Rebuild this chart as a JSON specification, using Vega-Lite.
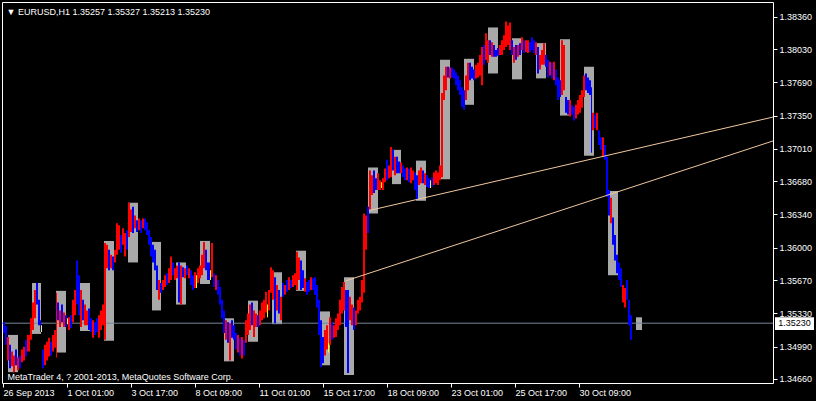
{
"$schema":"https://vega.github.io/schema/vega-lite/v6.json",
"width":771,"height":381,
"autosize":{"type":"none"},
"padding":{"left":2,"top":2,"right":43,"bottom":18},
"background":"#000000",
"config":{"view":{"stroke":"#FFFFFF","strokeWidth":1},"font":"Liberation Sans",
"axis":{"labelOverlap":false,"labelFlush":false,"labelBound":false,"grid":false,"domain":false,"tickColor":"#FFFFFF","tickSize":4,"tickWidth":1,"labelColor":"#FFFFFF","labelFont":"Liberation Sans","labelFontSize":9,"titleColor":"#FFFFFF","titleFont":"Liberation Sans","titleFontSize":9,"titleFontWeight":"normal"}},
"datasets":{
"boxes":[
{"t":6,"t2":16,"hi":1.3511,"lo":1.3473},{"t":30,"t2":39,"hi":1.3564,"lo":1.3512},{"t":54,"t2":64,"hi":1.3556,"lo":1.3493},{"t":78,"t2":88,"hi":1.3564,"lo":1.3515},{"t":102,"t2":112,"hi":1.3607,"lo":1.3505},{"t":126,"t2":136,"hi":1.3646,"lo":1.3585},{"t":150,"t2":159,"hi":1.3606,"lo":1.3536},{"t":174,"t2":184,"hi":1.3585,"lo":1.3542},{"t":198,"t2":208,"hi":1.3607,"lo":1.3563},{"t":222,"t2":232,"hi":1.3528,"lo":1.3484},{"t":246,"t2":256,"hi":1.3546,"lo":1.3504},{"t":270,"t2":280,"hi":1.3575,"lo":1.3522},{"t":294,"t2":304,"hi":1.3597,"lo":1.3556},{"t":318,"t2":328,"hi":1.3535,"lo":1.348},{"t":342,"t2":352,"hi":1.357,"lo":1.347},{"t":366,"t2":376,"hi":1.3682,"lo":1.3635},{"t":390,"t2":399,"hi":1.37,"lo":1.3665},{"t":414,"t2":424,"hi":1.3689,"lo":1.3648},{"t":438,"t2":448,"hi":1.3792,"lo":1.367},{"t":462,"t2":472,"hi":1.3793,"lo":1.3746},{"t":486,"t2":496,"hi":1.3825,"lo":1.3778},{"t":510,"t2":520,"hi":1.3814,"lo":1.3772},{"t":534,"t2":544,"hi":1.3809,"lo":1.3773},{"t":558,"t2":568,"hi":1.3813,"lo":1.3735},{"t":582,"t2":592,"hi":1.3785,"lo":1.3694},{"t":606,"t2":616,"hi":1.3658,"lo":1.3572},{"t":634,"t2":640,"hi":1.3529,"lo":1.3516}
],
"price":[
{"t":1,"t2":3,"hi":1.3524,"lo":1.3513,"c":"dn"},{"t":3,"t2":5,"hi":1.352,"lo":1.3501,"c":"dn"},{"t":5,"t2":7,"hi":1.3509,"lo":1.3485,"c":"up"},{"t":7,"t2":9,"hi":1.3501,"lo":1.3477,"c":"dn"},{"t":9,"t2":11,"hi":1.3494,"lo":1.3479,"c":"up"},{"t":11,"t2":13,"hi":1.349,"lo":1.3473,"c":"up"},{"t":13,"t2":15,"hi":1.3496,"lo":1.348,"c":"dn"},{"t":15,"t2":17,"hi":1.3488,"lo":1.3475,"c":"up"},{"t":17,"t2":19,"hi":1.349,"lo":1.3477,"c":"dn"},{"t":19,"t2":21,"hi":1.3496,"lo":1.3483,"c":"up"},
{"t":21,"t2":23,"hi":1.3499,"lo":1.3485,"c":"up"},{"t":23,"t2":25,"hi":1.3506,"lo":1.3489,"c":"dn"},{"t":25,"t2":28,"hi":1.3511,"lo":1.3494,"c":"up"},{"t":28,"t2":30,"hi":1.3528,"lo":1.3506,"c":"up"},{"t":30,"t2":32,"hi":1.3544,"lo":1.3516,"c":"up"},{"t":32,"t2":34,"hi":1.3557,"lo":1.3528,"c":"up"},{"t":34,"t2":36,"hi":1.3564,"lo":1.3542,"c":"dn"},{"t":36,"t2":38,"hi":1.3547,"lo":1.3521,"c":"dn"},{"t":38,"t2":39,"hi":1.3526,"lo":1.3514,"c":"dn"},{"t":39,"t2":40,"hi":1.3521,"lo":1.3514,"c":"eq"},
{"t":40,"t2":42,"hi":1.3496,"lo":1.3477,"c":"dn"},{"t":42,"t2":44,"hi":1.3501,"lo":1.348,"c":"up"},{"t":44,"t2":46,"hi":1.3504,"lo":1.3485,"c":"up"},{"t":46,"t2":48,"hi":1.3508,"lo":1.3489,"c":"up"},{"t":48,"t2":50,"hi":1.3504,"lo":1.349,"c":"dn"},{"t":50,"t2":52,"hi":1.3511,"lo":1.3494,"c":"up"},{"t":52,"t2":54,"hi":1.3516,"lo":1.3498,"c":"up"},{"t":54,"t2":55,"hi":1.3554,"lo":1.3488,"c":"up"},{"t":55,"t2":57,"hi":1.3544,"lo":1.3526,"c":"dn"},{"t":57,"t2":59,"hi":1.3536,"lo":1.3519,"c":"up"},
{"t":59,"t2":61,"hi":1.3542,"lo":1.3524,"c":"dn"},{"t":61,"t2":63,"hi":1.3534,"lo":1.3519,"c":"up"},{"t":63,"t2":65,"hi":1.3531,"lo":1.3519,"c":"dn"},{"t":65,"t2":66,"hi":1.3528,"lo":1.3522,"c":"eq"},{"t":66,"t2":68,"hi":1.3529,"lo":1.3516,"c":"up"},{"t":68,"t2":70,"hi":1.3531,"lo":1.3518,"c":"dn"},{"t":70,"t2":72,"hi":1.3547,"lo":1.3524,"c":"up"},{"t":72,"t2":74,"hi":1.3557,"lo":1.3531,"c":"up"},{"t":74,"t2":76,"hi":1.3587,"lo":1.3542,"c":"dn"},{"t":76,"t2":78,"hi":1.3572,"lo":1.3531,"c":"dn"},
{"t":78,"t2":80,"hi":1.3557,"lo":1.3519,"c":"up"},{"t":80,"t2":82,"hi":1.3547,"lo":1.3526,"c":"dn"},{"t":82,"t2":84,"hi":1.3542,"lo":1.3521,"c":"up"},{"t":84,"t2":86,"hi":1.3536,"lo":1.3521,"c":"up"},{"t":86,"t2":88,"hi":1.3538,"lo":1.3516,"c":"dn"},{"t":88,"t2":90,"hi":1.3528,"lo":1.3514,"c":"dn"},{"t":90,"t2":92,"hi":1.3526,"lo":1.3508,"c":"up"},{"t":92,"t2":94,"hi":1.3524,"lo":1.3511,"c":"dn"},{"t":94,"t2":96,"hi":1.3528,"lo":1.3514,"c":"dn"},{"t":96,"t2":98,"hi":1.3531,"lo":1.3508,"c":"up"},
{"t":98,"t2":100,"hi":1.3536,"lo":1.3516,"c":"up"},{"t":100,"t2":102,"hi":1.3542,"lo":1.3521,"c":"up"},{"t":102,"t2":104,"hi":1.3605,"lo":1.3506,"c":"up"},{"t":104,"t2":106,"hi":1.3603,"lo":1.3579,"c":"up"},{"t":106,"t2":108,"hi":1.3598,"lo":1.3577,"c":"dn"},{"t":108,"t2":110,"hi":1.3593,"lo":1.3579,"c":"up"},{"t":110,"t2":112,"hi":1.3591,"lo":1.3577,"c":"dn"},{"t":112,"t2":114,"hi":1.3598,"lo":1.3585,"c":"up"},{"t":114,"t2":116,"hi":1.3625,"lo":1.3593,"c":"up"},{"t":116,"t2":118,"hi":1.3623,"lo":1.3598,"c":"up"},
{"t":118,"t2":120,"hi":1.3613,"lo":1.3595,"c":"dn"},{"t":120,"t2":122,"hi":1.362,"lo":1.3603,"c":"up"},{"t":122,"t2":124,"hi":1.3615,"lo":1.3591,"c":"up"},{"t":124,"t2":126,"hi":1.3618,"lo":1.3598,"c":"dn"},{"t":126,"t2":128,"hi":1.3646,"lo":1.3611,"c":"up"},{"t":128,"t2":130,"hi":1.3639,"lo":1.3616,"c":"up"},{"t":130,"t2":132,"hi":1.3642,"lo":1.3615,"c":"dn"},{"t":132,"t2":134,"hi":1.3633,"lo":1.362,"c":"up"},{"t":134,"t2":136,"hi":1.3628,"lo":1.3616,"c":"dn"},{"t":136,"t2":138,"hi":1.363,"lo":1.3618,"c":"up"},
{"t":138,"t2":140,"hi":1.3628,"lo":1.3615,"c":"dn"},{"t":140,"t2":142,"hi":1.363,"lo":1.362,"c":"up"},{"t":142,"t2":144,"hi":1.363,"lo":1.3618,"c":"dn"},{"t":144,"t2":146,"hi":1.3626,"lo":1.3613,"c":"dn"},{"t":146,"t2":148,"hi":1.3618,"lo":1.3603,"c":"dn"},{"t":148,"t2":150,"hi":1.3611,"lo":1.3591,"c":"dn"},{"t":150,"t2":152,"hi":1.3603,"lo":1.3585,"c":"dn"},{"t":152,"t2":154,"hi":1.3598,"lo":1.3577,"c":"dn"},{"t":154,"t2":156,"hi":1.3582,"lo":1.3557,"c":"dn"},{"t":156,"t2":158,"hi":1.3567,"lo":1.3547,"c":"up"},
{"t":158,"t2":160,"hi":1.3564,"lo":1.3554,"c":"dn"},{"t":160,"t2":162,"hi":1.3567,"lo":1.3557,"c":"up"},{"t":162,"t2":164,"hi":1.3572,"lo":1.356,"c":"up"},{"t":164,"t2":166,"hi":1.3574,"lo":1.3562,"c":"dn"},{"t":166,"t2":168,"hi":1.3579,"lo":1.3564,"c":"up"},{"t":168,"t2":170,"hi":1.3591,"lo":1.3567,"c":"up"},{"t":170,"t2":172,"hi":1.3585,"lo":1.3572,"c":"dn"},{"t":172,"t2":174,"hi":1.3579,"lo":1.3567,"c":"up"},{"t":174,"t2":176,"hi":1.3582,"lo":1.3569,"c":"up"},{"t":176,"t2":178,"hi":1.3585,"lo":1.3544,"c":"dn"},
{"t":178,"t2":180,"hi":1.3582,"lo":1.3542,"c":"up"},{"t":180,"t2":182,"hi":1.358,"lo":1.357,"c":"dn"},{"t":182,"t2":184,"hi":1.3579,"lo":1.3569,"c":"up"},{"t":184,"t2":186,"hi":1.3582,"lo":1.3572,"c":"dn"},{"t":186,"t2":188,"hi":1.3579,"lo":1.3569,"c":"up"},{"t":188,"t2":190,"hi":1.3577,"lo":1.3562,"c":"dn"},{"t":190,"t2":192,"hi":1.3572,"lo":1.3557,"c":"dn"},{"t":192,"t2":194,"hi":1.3575,"lo":1.3559,"c":"up"},{"t":194,"t2":195,"hi":1.3572,"lo":1.3559,"c":"eq"},{"t":195,"t2":197,"hi":1.3579,"lo":1.3564,"c":"up"},
{"t":197,"t2":199,"hi":1.3582,"lo":1.3569,"c":"up"},{"t":199,"t2":201,"hi":1.3593,"lo":1.3572,"c":"up"},{"t":201,"t2":203,"hi":1.3606,"lo":1.3579,"c":"up"},{"t":203,"t2":205,"hi":1.3598,"lo":1.3577,"c":"dn"},{"t":205,"t2":207,"hi":1.3585,"lo":1.3567,"c":"dn"},{"t":207,"t2":208,"hi":1.3585,"lo":1.3567,"c":"dn"},{"t":208,"t2":209,"hi":1.3577,"lo":1.3567,"c":"eq"},{"t":209,"t2":211,"hi":1.3605,"lo":1.357,"c":"up"},{"t":211,"t2":213,"hi":1.3574,"lo":1.356,"c":"dn"},{"t":213,"t2":215,"hi":1.3572,"lo":1.3557,"c":"up"},
{"t":215,"t2":217,"hi":1.3567,"lo":1.3552,"c":"dn"},{"t":217,"t2":219,"hi":1.356,"lo":1.3542,"c":"dn"},{"t":219,"t2":221,"hi":1.3547,"lo":1.3528,"c":"dn"},{"t":221,"t2":223,"hi":1.3536,"lo":1.3513,"c":"dn"},{"t":223,"t2":225,"hi":1.3526,"lo":1.3506,"c":"up"},{"t":225,"t2":227,"hi":1.3524,"lo":1.3503,"c":"dn"},{"t":227,"t2":229,"hi":1.3523,"lo":1.3485,"c":"up"},{"t":229,"t2":231,"hi":1.3526,"lo":1.3508,"c":"dn"},{"t":231,"t2":233,"hi":1.3521,"lo":1.3506,"c":"dn"},{"t":233,"t2":235,"hi":1.3513,"lo":1.3496,"c":"dn"},
{"t":235,"t2":237,"hi":1.3511,"lo":1.3493,"c":"up"},{"t":237,"t2":239,"hi":1.3508,"lo":1.349,"c":"dn"},{"t":239,"t2":241,"hi":1.3509,"lo":1.3487,"c":"up"},{"t":241,"t2":243,"hi":1.3506,"lo":1.349,"c":"dn"},{"t":243,"t2":245,"hi":1.3526,"lo":1.3503,"c":"up"},{"t":245,"t2":247,"hi":1.3533,"lo":1.3511,"c":"up"},{"t":247,"t2":249,"hi":1.3542,"lo":1.3516,"c":"up"},{"t":249,"t2":251,"hi":1.3544,"lo":1.3521,"c":"dn"},{"t":251,"t2":253,"hi":1.3536,"lo":1.3509,"c":"up"},{"t":253,"t2":255,"hi":1.3533,"lo":1.3519,"c":"up"},
{"t":255,"t2":257,"hi":1.3531,"lo":1.3519,"c":"dn"},{"t":257,"t2":259,"hi":1.3536,"lo":1.3521,"c":"up"},{"t":259,"t2":261,"hi":1.3544,"lo":1.3526,"c":"up"},{"t":261,"t2":263,"hi":1.3547,"lo":1.3528,"c":"up"},{"t":263,"t2":265,"hi":1.3555,"lo":1.3534,"c":"up"},{"t":265,"t2":266,"hi":1.3542,"lo":1.3529,"c":"eq"},{"t":266,"t2":268,"hi":1.3557,"lo":1.3536,"c":"up"},{"t":268,"t2":270,"hi":1.358,"lo":1.3554,"c":"up"},{"t":270,"t2":272,"hi":1.3577,"lo":1.3547,"c":"up"},{"t":272,"t2":274,"hi":1.357,"lo":1.3523,"c":"dn"},
{"t":274,"t2":276,"hi":1.3562,"lo":1.3536,"c":"up"},{"t":276,"t2":278,"hi":1.3557,"lo":1.3533,"c":"dn"},{"t":278,"t2":280,"hi":1.355,"lo":1.3526,"c":"up"},{"t":280,"t2":282,"hi":1.3564,"lo":1.355,"c":"dn"},{"t":282,"t2":284,"hi":1.3562,"lo":1.3552,"c":"up"},{"t":284,"t2":286,"hi":1.3567,"lo":1.3555,"c":"dn"},{"t":286,"t2":288,"hi":1.357,"lo":1.3557,"c":"up"},{"t":288,"t2":290,"hi":1.3567,"lo":1.3559,"c":"dn"},{"t":290,"t2":292,"hi":1.3572,"lo":1.356,"c":"up"},{"t":292,"t2":294,"hi":1.3574,"lo":1.3562,"c":"up"},
{"t":294,"t2":296,"hi":1.3596,"lo":1.3557,"c":"up"},{"t":296,"t2":298,"hi":1.359,"lo":1.3567,"c":"up"},{"t":298,"t2":300,"hi":1.3587,"lo":1.3557,"c":"dn"},{"t":300,"t2":302,"hi":1.3577,"lo":1.3559,"c":"dn"},{"t":302,"t2":304,"hi":1.3569,"lo":1.3555,"c":"up"},{"t":304,"t2":306,"hi":1.3565,"lo":1.3552,"c":"dn"},{"t":306,"t2":308,"hi":1.3567,"lo":1.3555,"c":"dn"},{"t":308,"t2":310,"hi":1.357,"lo":1.3557,"c":"up"},{"t":310,"t2":312,"hi":1.3569,"lo":1.3557,"c":"dn"},{"t":312,"t2":314,"hi":1.357,"lo":1.3552,"c":"dn"},
{"t":314,"t2":316,"hi":1.3562,"lo":1.3539,"c":"dn"},{"t":316,"t2":318,"hi":1.3547,"lo":1.3511,"c":"dn"},{"t":318,"t2":320,"hi":1.3526,"lo":1.3478,"c":"dn"},{"t":320,"t2":322,"hi":1.3509,"lo":1.3482,"c":"dn"},{"t":322,"t2":324,"hi":1.3516,"lo":1.349,"c":"up"},{"t":324,"t2":326,"hi":1.3521,"lo":1.3496,"c":"up"},{"t":326,"t2":327,"hi":1.3503,"lo":1.3493,"c":"eq"},{"t":327,"t2":329,"hi":1.3529,"lo":1.3501,"c":"up"},{"t":329,"t2":331,"hi":1.3524,"lo":1.3506,"c":"dn"},{"t":331,"t2":333,"hi":1.3521,"lo":1.3508,"c":"up"},
{"t":333,"t2":335,"hi":1.3528,"lo":1.3509,"c":"up"},{"t":335,"t2":337,"hi":1.3533,"lo":1.3516,"c":"up"},{"t":337,"t2":339,"hi":1.3547,"lo":1.3521,"c":"up"},{"t":339,"t2":341,"hi":1.356,"lo":1.3533,"c":"up"},{"t":341,"t2":343,"hi":1.3565,"lo":1.3536,"c":"up"},{"t":343,"t2":345,"hi":1.3557,"lo":1.3519,"c":"dn"},{"t":345,"t2":347,"hi":1.3557,"lo":1.3472,"c":"dn"},{"t":347,"t2":349,"hi":1.355,"lo":1.3526,"c":"up"},{"t":349,"t2":351,"hi":1.3542,"lo":1.3521,"c":"up"},{"t":351,"t2":353,"hi":1.3539,"lo":1.3516,"c":"dn"},
{"t":353,"t2":355,"hi":1.3536,"lo":1.3521,"c":"up"},{"t":355,"t2":357,"hi":1.3547,"lo":1.3533,"c":"up"},{"t":357,"t2":359,"hi":1.355,"lo":1.3536,"c":"up"},{"t":359,"t2":361,"hi":1.3567,"lo":1.3544,"c":"up"},{"t":361,"t2":363,"hi":1.3635,"lo":1.3554,"c":"up"},{"t":363,"t2":365,"hi":1.3633,"lo":1.3598,"c":"up"},{"t":365,"t2":367,"hi":1.3642,"lo":1.3615,"c":"dn"},{"t":367,"t2":369,"hi":1.3679,"lo":1.3639,"c":"up"},{"t":369,"t2":371,"hi":1.3674,"lo":1.3654,"c":"up"},{"t":371,"t2":373,"hi":1.3679,"lo":1.3656,"c":"dn"},
{"t":373,"t2":375,"hi":1.3671,"lo":1.3659,"c":"dn"},{"t":375,"t2":377,"hi":1.3676,"lo":1.3659,"c":"up"},{"t":377,"t2":379,"hi":1.3669,"lo":1.3659,"c":"up"},{"t":379,"t2":380,"hi":1.3667,"lo":1.3661,"c":"eq"},{"t":380,"t2":382,"hi":1.3671,"lo":1.3659,"c":"up"},{"t":382,"t2":384,"hi":1.3681,"lo":1.3667,"c":"up"},{"t":384,"t2":386,"hi":1.369,"lo":1.3669,"c":"dn"},{"t":386,"t2":388,"hi":1.3684,"lo":1.3671,"c":"up"},{"t":388,"t2":390,"hi":1.3703,"lo":1.3672,"c":"up"},{"t":390,"t2":392,"hi":1.37,"lo":1.3679,"c":"dn"},
{"t":392,"t2":394,"hi":1.3693,"lo":1.3674,"c":"up"},{"t":394,"t2":396,"hi":1.3693,"lo":1.3676,"c":"dn"},{"t":396,"t2":398,"hi":1.3688,"lo":1.3676,"c":"dn"},{"t":398,"t2":400,"hi":1.3687,"lo":1.3676,"c":"up"},{"t":400,"t2":402,"hi":1.3684,"lo":1.3672,"c":"dn"},{"t":402,"t2":404,"hi":1.3681,"lo":1.3669,"c":"dn"},{"t":404,"t2":406,"hi":1.3682,"lo":1.3669,"c":"up"},{"t":406,"t2":408,"hi":1.3681,"lo":1.3667,"c":"dn"},{"t":408,"t2":410,"hi":1.3682,"lo":1.3666,"c":"up"},{"t":410,"t2":412,"hi":1.3679,"lo":1.3669,"c":"up"},
{"t":412,"t2":414,"hi":1.3677,"lo":1.3659,"c":"dn"},{"t":414,"t2":416,"hi":1.3674,"lo":1.3649,"c":"dn"},{"t":416,"t2":418,"hi":1.3679,"lo":1.3664,"c":"up"},{"t":418,"t2":420,"hi":1.3682,"lo":1.3666,"c":"up"},{"t":420,"t2":422,"hi":1.3679,"lo":1.3666,"c":"dn"},{"t":422,"t2":424,"hi":1.3676,"lo":1.3664,"c":"up"},{"t":424,"t2":426,"hi":1.3674,"lo":1.3662,"c":"dn"},{"t":426,"t2":428,"hi":1.3671,"lo":1.3661,"c":"dn"},{"t":428,"t2":429,"hi":1.3669,"lo":1.3661,"c":"eq"},{"t":429,"t2":431,"hi":1.3672,"lo":1.3662,"c":"dn"},
{"t":431,"t2":433,"hi":1.3677,"lo":1.3664,"c":"up"},{"t":433,"t2":435,"hi":1.3679,"lo":1.3666,"c":"up"},{"t":435,"t2":437,"hi":1.3677,"lo":1.3664,"c":"up"},{"t":437,"t2":439,"hi":1.3684,"lo":1.3669,"c":"up"},{"t":439,"t2":441,"hi":1.3758,"lo":1.3672,"c":"up"},{"t":441,"t2":443,"hi":1.3776,"lo":1.3751,"c":"up"},{"t":443,"t2":445,"hi":1.3785,"lo":1.3761,"c":"up"},{"t":445,"t2":447,"hi":1.3785,"lo":1.3774,"c":"dn"},{"t":447,"t2":449,"hi":1.3784,"lo":1.3773,"c":"up"},{"t":449,"t2":451,"hi":1.3784,"lo":1.3774,"c":"dn"},
{"t":451,"t2":453,"hi":1.3782,"lo":1.3773,"c":"dn"},{"t":453,"t2":455,"hi":1.3779,"lo":1.3766,"c":"dn"},{"t":455,"t2":457,"hi":1.3776,"lo":1.3761,"c":"dn"},{"t":457,"t2":459,"hi":1.3771,"lo":1.3756,"c":"dn"},{"t":459,"t2":461,"hi":1.3764,"lo":1.3744,"c":"dn"},{"t":461,"t2":463,"hi":1.3761,"lo":1.3741,"c":"dn"},{"t":463,"t2":465,"hi":1.3776,"lo":1.3751,"c":"up"},{"t":465,"t2":467,"hi":1.3789,"lo":1.3761,"c":"up"},{"t":467,"t2":469,"hi":1.3789,"lo":1.3771,"c":"dn"},{"t":469,"t2":471,"hi":1.3785,"lo":1.3773,"c":"dn"},
{"t":471,"t2":473,"hi":1.3782,"lo":1.3771,"c":"dn"},{"t":473,"t2":475,"hi":1.3787,"lo":1.3773,"c":"up"},{"t":475,"t2":477,"hi":1.3789,"lo":1.3774,"c":"up"},{"t":477,"t2":479,"hi":1.3797,"lo":1.3776,"c":"up"},{"t":479,"t2":481,"hi":1.3805,"lo":1.3766,"c":"up"},{"t":481,"t2":483,"hi":1.3807,"lo":1.3787,"c":"dn"},{"t":483,"t2":485,"hi":1.3819,"lo":1.3792,"c":"up"},{"t":485,"t2":487,"hi":1.3812,"lo":1.3789,"c":"up"},{"t":487,"t2":489,"hi":1.3812,"lo":1.3797,"c":"dn"},{"t":489,"t2":491,"hi":1.381,"lo":1.3795,"c":"up"},
{"t":491,"t2":493,"hi":1.3807,"lo":1.3795,"c":"dn"},{"t":493,"t2":495,"hi":1.3802,"lo":1.3795,"c":"dn"},{"t":495,"t2":497,"hi":1.3804,"lo":1.3796,"c":"dn"},{"t":497,"t2":499,"hi":1.3807,"lo":1.3797,"c":"up"},{"t":499,"t2":501,"hi":1.3812,"lo":1.3797,"c":"up"},{"t":501,"t2":503,"hi":1.3817,"lo":1.3802,"c":"up"},{"t":503,"t2":505,"hi":1.3831,"lo":1.3805,"c":"up"},{"t":505,"t2":507,"hi":1.3827,"lo":1.3807,"c":"up"},{"t":507,"t2":509,"hi":1.383,"lo":1.3802,"c":"up"},{"t":509,"t2":511,"hi":1.3812,"lo":1.3797,"c":"dn"},
{"t":511,"t2":513,"hi":1.3805,"lo":1.3789,"c":"up"},{"t":513,"t2":515,"hi":1.3807,"lo":1.3792,"c":"dn"},{"t":515,"t2":517,"hi":1.3807,"lo":1.3795,"c":"up"},{"t":517,"t2":519,"hi":1.3809,"lo":1.3797,"c":"dn"},{"t":519,"t2":521,"hi":1.3815,"lo":1.3802,"c":"up"},{"t":521,"t2":523,"hi":1.3812,"lo":1.3799,"c":"dn"},{"t":523,"t2":525,"hi":1.3812,"lo":1.38,"c":"up"},{"t":525,"t2":527,"hi":1.3812,"lo":1.3799,"c":"up"},{"t":527,"t2":529,"hi":1.381,"lo":1.38,"c":"dn"},{"t":529,"t2":531,"hi":1.3815,"lo":1.3802,"c":"dn"},
{"t":531,"t2":533,"hi":1.3812,"lo":1.3799,"c":"dn"},{"t":533,"t2":535,"hi":1.381,"lo":1.3797,"c":"up"},{"t":535,"t2":537,"hi":1.3805,"lo":1.3778,"c":"dn"},{"t":537,"t2":539,"hi":1.3797,"lo":1.3782,"c":"up"},{"t":539,"t2":541,"hi":1.3802,"lo":1.3787,"c":"up"},{"t":541,"t2":543,"hi":1.3809,"lo":1.3787,"c":"up"},{"t":543,"t2":545,"hi":1.3797,"lo":1.3785,"c":"dn"},{"t":545,"t2":547,"hi":1.3792,"lo":1.3774,"c":"dn"},{"t":547,"t2":549,"hi":1.379,"lo":1.3776,"c":"up"},{"t":549,"t2":551,"hi":1.3789,"lo":1.3773,"c":"dn"},
{"t":551,"t2":553,"hi":1.379,"lo":1.3771,"c":"up"},{"t":553,"t2":555,"hi":1.3782,"lo":1.3766,"c":"dn"},{"t":555,"t2":557,"hi":1.3774,"lo":1.3751,"c":"dn"},{"t":557,"t2":559,"hi":1.3771,"lo":1.3754,"c":"dn"},{"t":559,"t2":561,"hi":1.3812,"lo":1.3756,"c":"up"},{"t":561,"t2":563,"hi":1.3807,"lo":1.3761,"c":"up"},{"t":563,"t2":565,"hi":1.3754,"lo":1.3738,"c":"dn"},{"t":565,"t2":567,"hi":1.3751,"lo":1.3736,"c":"dn"},{"t":567,"t2":569,"hi":1.3751,"lo":1.3734,"c":"up"},{"t":569,"t2":571,"hi":1.3746,"lo":1.3736,"c":"dn"},
{"t":571,"t2":573,"hi":1.3744,"lo":1.373,"c":"dn"},{"t":573,"t2":575,"hi":1.3746,"lo":1.3732,"c":"up"},{"t":575,"t2":577,"hi":1.3751,"lo":1.3736,"c":"up"},{"t":577,"t2":579,"hi":1.3756,"lo":1.3738,"c":"up"},{"t":579,"t2":581,"hi":1.3761,"lo":1.3743,"c":"up"},{"t":581,"t2":583,"hi":1.3776,"lo":1.3754,"c":"up"},{"t":583,"t2":585,"hi":1.3778,"lo":1.3761,"c":"dn"},{"t":585,"t2":587,"hi":1.3774,"lo":1.3758,"c":"dn"},{"t":587,"t2":589,"hi":1.3771,"lo":1.3756,"c":"dn"},{"t":589,"t2":590,"hi":1.3764,"lo":1.3697,"c":"dn"},
{"t":590,"t2":592,"hi":1.3738,"lo":1.372,"c":"up"},{"t":592,"t2":594,"hi":1.3736,"lo":1.3722,"c":"dn"},{"t":594,"t2":596,"hi":1.3738,"lo":1.372,"c":"up"},{"t":596,"t2":598,"hi":1.372,"lo":1.3705,"c":"dn"},{"t":598,"t2":600,"hi":1.3713,"lo":1.37,"c":"dn"},{"t":600,"t2":602,"hi":1.3713,"lo":1.3693,"c":"up"},{"t":602,"t2":604,"hi":1.3705,"lo":1.369,"c":"dn"},{"t":604,"t2":606,"hi":1.3693,"lo":1.3652,"c":"dn"},{"t":606,"t2":608,"hi":1.3659,"lo":1.3633,"c":"dn"},{"t":608,"t2":610,"hi":1.3651,"lo":1.3625,"c":"up"},
{"t":610,"t2":612,"hi":1.3631,"lo":1.3603,"c":"dn"},{"t":612,"t2":614,"hi":1.3613,"lo":1.3587,"c":"dn"},{"t":614,"t2":616,"hi":1.3593,"lo":1.3574,"c":"dn"},{"t":616,"t2":618,"hi":1.3585,"lo":1.3567,"c":"dn"},{"t":618,"t2":620,"hi":1.3579,"lo":1.356,"c":"dn"},{"t":620,"t2":622,"hi":1.3562,"lo":1.3544,"c":"up"},{"t":622,"t2":624,"hi":1.3559,"lo":1.3539,"c":"up"},{"t":624,"t2":626,"hi":1.3567,"lo":1.3547,"c":"dn"},{"t":626,"t2":628,"hi":1.3547,"lo":1.3521,"c":"dn"},{"t":628,"t2":630,"hi":1.3531,"lo":1.3506,"c":"dn"}
],
"trend":[
{"id":"a","t":367,"p":1.3638},{"id":"a","t":771,"p":1.37335},
{"id":"b","t":344,"p":1.35663},{"id":"b","t":771,"p":1.37091}
],
"bid":[{"p":1.3523}],
"bidlabel":[{"t":773,"t2":812,"tc":792.5,"hi":1.3529,"lo":1.3516,"p":1.3523,"txt":"1.35230"}]
},
"layer":[
{"data":{"name":"boxes"},"mark":{"type":"rect","color":"#A9A9A9"},
"encoding":{
"x":{"field":"t","type":"quantitative","scale":{"domain":[0,771],"nice":false,"zero":false},
"axis":{"orient":"bottom","values":[1,65,129,193,257,321,385,449,513,577],"tickCount":40,
"labelExpr":"datum.value==1?'26 Sep 2013':datum.value==65?'1 Oct 01:00':datum.value==129?'3 Oct 17:00':datum.value==193?'8 Oct 09:00':datum.value==257?'11 Oct 01:00':datum.value==321?'15 Oct 17:00':datum.value==385?'18 Oct 09:00':datum.value==449?'23 Oct 01:00':datum.value==513?'25 Oct 17:00':'30 Oct 09:00'",
"labelAlign":"left","labelBaseline":"top","labelPadding":1,"labelOverlap":false,
"title":"MetaTrader 4, ? 2001-2013, MetaQuotes Software Corp.","titleX":5,"titleY":-4,"titleAlign":"left","titleAnchor":"start","titleBaseline":"alphabetic"}},
"x2":{"field":"t2"},
"y":{"field":"hi","type":"quantitative","scale":{"domain":[1.34619,1.3851],"nice":false,"zero":false},
"axis":{"orient":"right","values":[1.3466,1.3499,1.3533,1.3567,1.36,1.3634,1.3668,1.3701,1.3735,1.3769,1.3803,1.3836],"tickCount":40,"format":".5f","labelPadding":2,"labelBaseline":"middle","labelAlign":"left","labelOverlap":false,
"title":"▼ EURUSD,H1  1.35257 1.35327 1.35213 1.35230","titleAngle":0,"titleX":-767,"titleY":12,"titleAlign":"left","titleAnchor":"start","titleBaseline":"alphabetic"}},
"y2":{"field":"lo"}}},
{"data":{"name":"bid"},"mark":{"type":"rule","color":"#778899","strokeWidth":1},
"encoding":{"y":{"field":"p","type":"quantitative","scale":{"domain":[1.34619,1.3851],"nice":false,"zero":false}}}},
{"data":{"name":"price"},"mark":{"type":"rect"},
"encoding":{
"x":{"field":"t","type":"quantitative","scale":{"domain":[0,771],"nice":false,"zero":false}},
"x2":{"field":"t2"},
"y":{"field":"hi","type":"quantitative","scale":{"domain":[1.34619,1.3851],"nice":false,"zero":false}},
"y2":{"field":"lo"},
"color":{"field":"c","type":"nominal","scale":{"domain":["up","dn","eq"],"range":["#FF0000","#0000FF","#FFFF00"]},"legend":null}}},
{"data":{"name":"trend"},"mark":{"type":"line","color":"#F0C8A0","strokeWidth":1},
"encoding":{
"x":{"field":"t","type":"quantitative","scale":{"domain":[0,771],"nice":false,"zero":false}},
"y":{"field":"p","type":"quantitative","scale":{"domain":[1.34619,1.3851],"nice":false,"zero":false}},
"detail":{"field":"id"}}},
{"data":{"name":"bidlabel"},"mark":{"type":"rect","color":"#FFFFFF","clip":false},
"encoding":{
"x":{"field":"t","type":"quantitative","scale":{"domain":[0,771],"nice":false,"zero":false}},
"x2":{"field":"t2"},
"y":{"field":"hi","type":"quantitative","scale":{"domain":[1.34619,1.3851],"nice":false,"zero":false}},
"y2":{"field":"lo"}}},
{"data":{"name":"bidlabel"},"mark":{"type":"text","color":"#000000","font":"Liberation Sans","fontSize":9,"align":"center","baseline":"middle","clip":false},
"encoding":{
"x":{"field":"tc","type":"quantitative","scale":{"domain":[0,771],"nice":false,"zero":false}},
"y":{"field":"p","type":"quantitative","scale":{"domain":[1.34619,1.3851],"nice":false,"zero":false}},
"text":{"field":"txt"}}}
]
}
